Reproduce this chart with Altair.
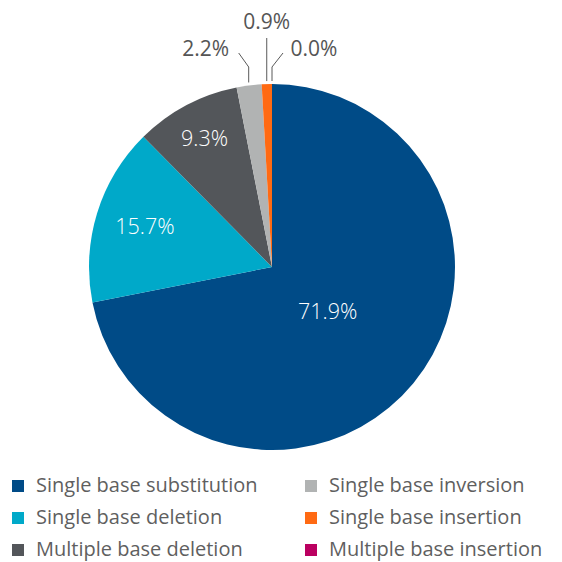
import math
import altair as alt
import pandas as pd

# ---- data ----
categories = [
    "Single base substitution",
    "Single base deletion",
    "Multiple base deletion",
    "Single base inversion",
    "Single base insertion",
    "Multiple base insertion",
]
values = [71.9, 15.7, 9.3, 2.2, 0.9, 0.0]
colors = ["#004B87", "#00A9C9", "#53565A", "#B1B3B3", "#FF6A13", "#BA0060"]

# ---- layout (styles) ----
W, H = 546, 546
CX, CY = 264, 259
R = 183
inside_radius = [72, 133, 144, None, None, None]
# outside leaders: (start r, elbow y, end dx, end y, label dx, label y)
outside = [None, None, None,
           (186, 200, -10, 214, -43, 217),
           (186, 229, 0, 229, 0, 244),
           (186, 200, 11, 214, 42, 217)]

df = pd.DataFrame({"cat": categories, "value": values, "order": range(len(values))})
df["label"] = [f"{v:.1f}%" for v in values]

cum = 0.0
mids = []
for v in values:
    mids.append((cum + v / 2) / 100 * 2 * math.pi)
    cum += v

in_rows, line_rows, out_rows = [], [], []
for i, (lab, m) in enumerate(zip(df["label"], mids)):
    if inside_radius[i] is not None:
        r = inside_radius[i]
        in_rows.append({"x": r * math.sin(m), "y": r * math.cos(m), "label": lab})
    else:
        r0, ey, edx, eyy, ldx, ly = outside[i]
        x0 = r0 * math.sin(m)
        y0 = r0 * math.cos(m)
        line_rows += [
            {"k": i, "s": 0, "x": x0, "y": y0},
            {"k": i, "s": 1, "x": x0, "y": ey},
            {"k": i, "s": 2, "x": x0 + edx, "y": eyy},
        ]
        out_rows.append({"x": x0 + ldx, "y": ly, "label": lab})

xs = alt.Scale(domain=[-CX, W - CX], range=[0, W], nice=False, zero=False)
ys = alt.Scale(domain=[-(H - CY), CY], range=[H, 0], nice=False, zero=False)

FONT = "Open Sans"
TXT = "#5F5F5F"

pie = alt.Chart(df).mark_arc(radius=R).encode(
    theta=alt.Theta("value:Q", stack=True),
    order=alt.Order("order:Q"),
    color=alt.Color(
        "cat:N",
        scale=alt.Scale(domain=categories, range=colors),
        legend=alt.Legend(
            title=None,
            orient="none",
            legendX=0,
            legendY=468,
            columns=2,
            columnPadding=43,
            rowPadding=12,
            symbolType="square",
            symbolSize=144,
            symbolStrokeWidth=0,
            labelFont=FONT,
            labelFontWeight=400,
            labelFontSize=20,
            labelColor=TXT,
            labelOffset=8,
            labelLimit=400,
        ),
    ),
    x=alt.value(CX),
    y=alt.value(CY),
)

inside_text = alt.Chart(pd.DataFrame(in_rows)).mark_text(
    font=FONT, fontWeight=300, fontSize=21.5, color="white", align="center", baseline="middle"
).encode(
    x=alt.X("x:Q", scale=xs, axis=None),
    y=alt.Y("y:Q", scale=ys, axis=None),
    text="label:N",
)

leaders = alt.Chart(pd.DataFrame(line_rows)).mark_line(
    color="#595959", strokeWidth=1
).encode(
    x=alt.X("x:Q", scale=xs, axis=None),
    y=alt.Y("y:Q", scale=ys, axis=None),
    detail="k:N",
    order="s:Q",
)

outside_text = alt.Chart(pd.DataFrame(out_rows)).mark_text(
    font=FONT, fontWeight=400, fontSize=21, color="#555555", align="center", baseline="middle"
).encode(
    x=alt.X("x:Q", scale=xs, axis=None),
    y=alt.Y("y:Q", scale=ys, axis=None),
    text="label:N",
)

chart = alt.layer(pie, leaders, inside_text, outside_text).properties(
    width=W,
    height=H,
    background="white",
    autosize=alt.AutoSizeParams(type="none"),
    padding={"left": 0, "top": 0, "right": 0, "bottom": 8},
).configure_view(stroke=None)

chart.save("out.html", embed_options={"renderer": "svg", "actions": False})
